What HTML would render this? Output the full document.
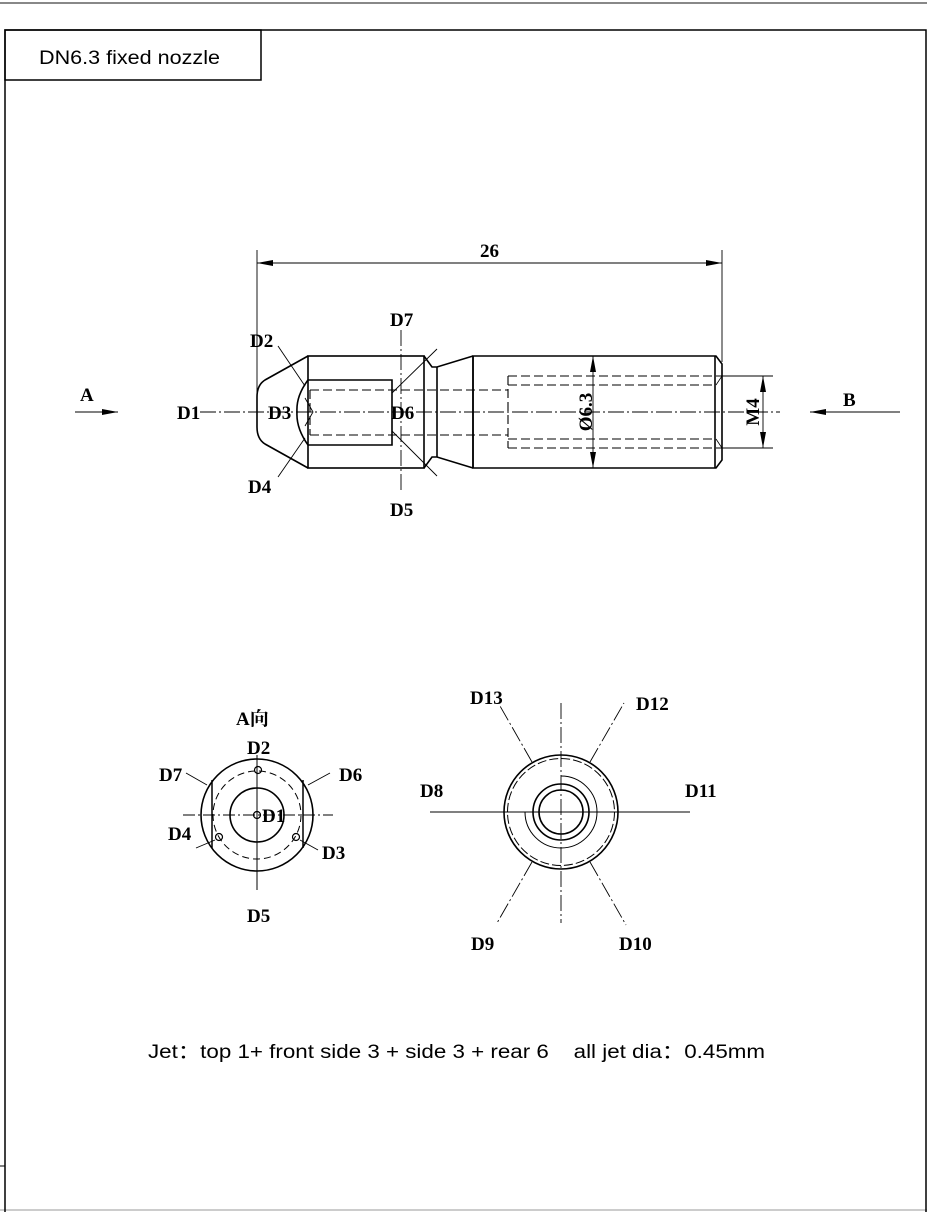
<!DOCTYPE html>
<html><head><meta charset="utf-8"><style>
html,body{margin:0;padding:0;background:#fff;}
svg{display:block;}
.l{font-family:"Liberation Serif","Noto Serif CJK SC",serif;font-weight:bold;font-size:19px;fill:#000;}
</style></head><body>
<svg width="927" height="1212" viewBox="0 0 927 1212" xmlns="http://www.w3.org/2000/svg">
<line x1="0" y1="3" x2="927" y2="3" stroke="#888" stroke-width="2"/>
<line x1="0" y1="1210" x2="927" y2="1210" stroke="#bbb" stroke-width="1.5"/>
<rect x="5" y="30" width="921" height="1190" fill="none" stroke="#000" stroke-width="1.5"/>
<rect x="5" y="30" width="256" height="50" fill="none" stroke="#000" stroke-width="1.5"/>
<line x1="0" y1="1166" x2="5" y2="1166" stroke="#000"/>
<text x="39" y="64" font-family="Liberation Sans,sans-serif" font-size="19" textLength="181" lengthAdjust="spacingAndGlyphs">DN6.3 fixed nozzle</text>

<g fill="none" stroke="#000">
<g stroke-width="1.6">
<path d="M308,356 L265,380 Q257,385 257,397 L257,427 Q257,439 265,444 L308,468"/>
<rect x="308" y="356" width="116" height="112"/>
<path d="M424,356 L432,367 L437,367 L473,356"/>
<path d="M424,468 L432,457 L437,457 L473,468"/>
<line x1="437" y1="367" x2="437" y2="457"/>
<path d="M473,356 L716,356 L722,364 L722,460 L716,468 L473,468 Z"/>
<line x1="473" y1="356" x2="473" y2="468"/>
<line x1="715" y1="356" x2="715" y2="468"/>
<path d="M392,380 L308,380 Q296,396 297,412 Q296,428 308,445 L392,445 Z"/>
</g>
<g stroke-width="1.1" stroke-dasharray="9,4">
<line x1="310" y1="390" x2="508" y2="390"/>
<line x1="310" y1="435" x2="508" y2="435"/>
<line x1="508" y1="376" x2="508" y2="448"/>
<line x1="508" y1="376" x2="722" y2="376"/>
<line x1="508" y1="385" x2="716" y2="385"/>
<line x1="508" y1="439" x2="716" y2="439"/>
<line x1="508" y1="448" x2="722" y2="448"/>
<line x1="310" y1="390" x2="310" y2="435"/>
</g>
<path d="M305,398 L313,412 L305,426" stroke-width="0.9"/>
<path d="M716,385 L722,376 M716,439 L722,448" stroke-width="0.8"/>
<g stroke-width="0.9" stroke-dasharray="16,3,2,3">
<line x1="200" y1="412" x2="780" y2="412"/>
<line x1="401" y1="330" x2="401" y2="492"/>
</g>
<g stroke-width="0.9">
<line x1="278" y1="346" x2="305" y2="386"/>
<line x1="278" y1="477" x2="305" y2="438"/>
<line x1="437" y1="349" x2="392" y2="393"/>
<line x1="437" y1="476" x2="392" y2="431"/>
<line x1="257" y1="250" x2="257" y2="395"/>
<line x1="722" y1="250" x2="722" y2="362"/>
<line x1="257" y1="263" x2="722" y2="263"/>
<line x1="593" y1="356" x2="593" y2="468"/>
<line x1="722" y1="376" x2="773" y2="376"/>
<line x1="722" y1="448" x2="773" y2="448"/>
<line x1="763" y1="376" x2="763" y2="448"/>
<line x1="75" y1="412" x2="118" y2="412"/>
<line x1="810" y1="412" x2="900" y2="412"/>
</g>
</g>
<g fill="#000">
<path d="M257,263 l16,-3 l0,6 z"/><path d="M722,263 l-16,-3 l0,6 z"/>
<path d="M593,356 l-3,16 l6,0 z"/><path d="M593,468 l-3,-16 l6,0 z"/>
<path d="M763,376 l-3,16 l6,0 z"/><path d="M763,448 l-3,-16 l6,0 z"/>
<path d="M118,412 l-16,-3 l0,6 z"/><path d="M810,412 l16,-3 l0,6 z"/>
</g>
<text class="l" x="480" y="257">26</text>
<text class="l" x="80" y="401">A</text>
<text class="l" x="843" y="406">B</text>
<text class="l" x="177" y="419">D1</text>
<text class="l" x="268" y="419">D3</text>
<text class="l" x="391" y="419">D6</text>
<text class="l" x="250" y="347">D2</text>
<text class="l" x="248" y="493">D4</text>
<text class="l" x="390" y="326">D7</text>
<text class="l" x="390" y="516">D5</text>
<text class="l" transform="translate(592,412) rotate(-90)" text-anchor="middle">Ø6.3</text>
<text class="l" transform="translate(759,412) rotate(-90)" text-anchor="middle">M4</text>

<g fill="none" stroke="#000">
<circle cx="257" cy="815" r="56" stroke-width="1.6"/>
<circle cx="257" cy="815" r="27" stroke-width="1.6"/>
<circle cx="257" cy="815" r="44" stroke-width="1" stroke-dasharray="7,4"/>
<line x1="212" y1="780" x2="212" y2="848" stroke-width="1.5"/>
<line x1="303" y1="780" x2="303" y2="848" stroke-width="1.5"/>
<circle cx="258" cy="770" r="3.5" stroke-width="1.2"/>
<circle cx="219" cy="837" r="3.5" stroke-width="1.2"/>
<circle cx="296" cy="837" r="3.5" stroke-width="1.2"/>
<circle cx="257" cy="815" r="3.5" stroke-width="1.2"/>
<line x1="183" y1="815" x2="333" y2="815" stroke-width="1" stroke-dasharray="12,3,2,3"/>
<line x1="257" y1="755" x2="257" y2="890" stroke-width="1"/>
<g stroke-width="0.9">
<line x1="186" y1="773" x2="207" y2="785"/>
<line x1="330" y1="773" x2="308" y2="785"/>
<line x1="196" y1="848" x2="215" y2="840"/>
<line x1="318" y1="850" x2="300" y2="840"/>
</g>
</g>
<text class="l" x="236" y="725" font-size="21">A向</text>
<text class="l" x="247" y="754">D2</text>
<text class="l" x="159" y="781">D7</text>
<text class="l" x="339" y="781">D6</text>
<text class="l" x="168" y="840">D4</text>
<text class="l" x="322" y="859">D3</text>
<text class="l" x="247" y="922">D5</text>
<text class="l" x="262" y="822">D1</text>

<g fill="none" stroke="#000">
<circle cx="561" cy="812" r="57" stroke-width="1.6"/>
<circle cx="561" cy="812" r="53.5" stroke-width="1" stroke-dasharray="9,3"/>
<circle cx="561" cy="812" r="28" stroke-width="1.6"/>
<circle cx="561" cy="812" r="22" stroke-width="1.6"/>
<path d="M561,776 A36,36 0 1 1 525,812" stroke-width="1"/>
<line x1="430" y1="812" x2="690" y2="812" stroke-width="1"/>
<line x1="561" y1="703" x2="561" y2="923" stroke-width="0.9" stroke-dasharray="16,3,2,3"/>
<g stroke-width="0.9" stroke-dasharray="16,3,2,3">
<line x1="532" y1="762" x2="500" y2="706"/>
<line x1="590" y1="762" x2="624" y2="703"/>
<line x1="532" y1="862" x2="497" y2="923"/>
<line x1="590" y1="862" x2="626" y2="925"/>
</g>
</g>
<text class="l" x="470" y="704">D13</text>
<text class="l" x="636" y="710">D12</text>
<text class="l" x="420" y="797">D8</text>
<text class="l" x="685" y="797">D11</text>
<text class="l" x="471" y="950">D9</text>
<text class="l" x="619" y="950">D10</text>

<text x="148" y="1058" font-family="Liberation Sans,'Noto Sans CJK SC',sans-serif" font-size="19" textLength="617" lengthAdjust="spacingAndGlyphs" xml:space="preserve" style="white-space:pre">Jet：top 1+ front side 3 + side 3 + rear 6    all jet dia：0.45mm</text>
</svg>
</body></html>
